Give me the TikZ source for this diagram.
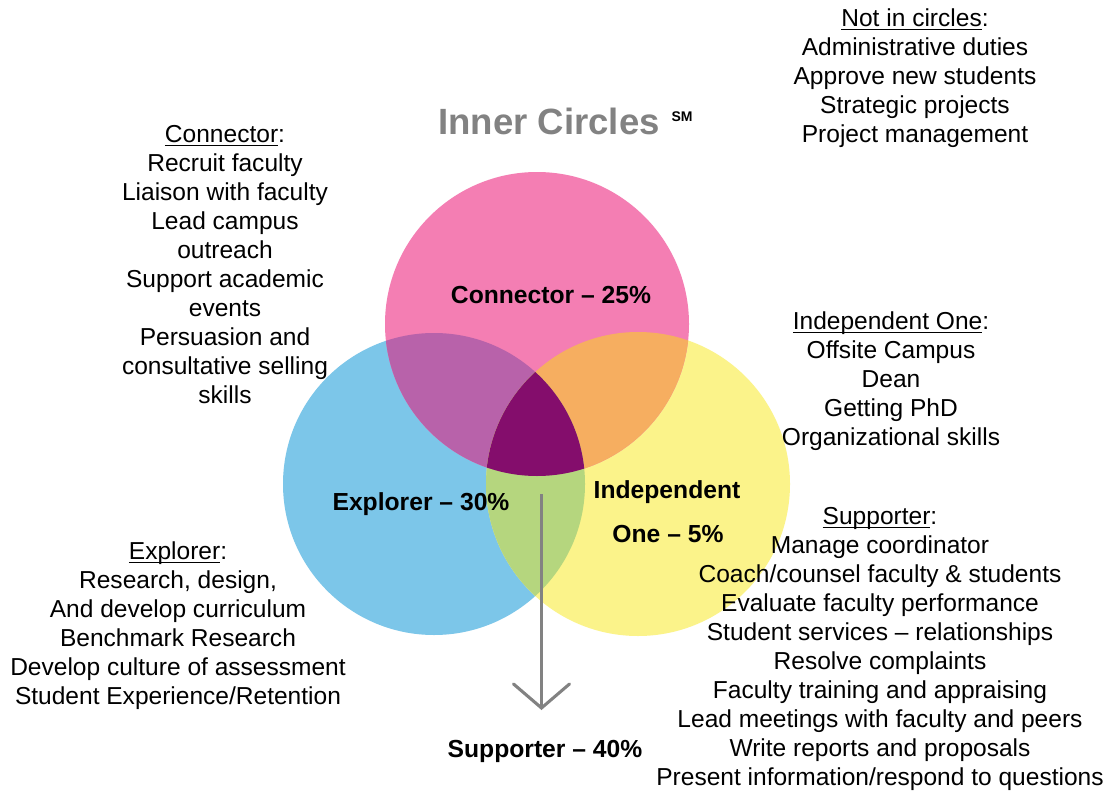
\documentclass[tikz,border=0pt]{standalone}
\usepackage{fontspec}
\setmainfont{Liberation Sans}
\usetikzlibrary{arrows.meta}

\definecolor{pinkc}{HTML}{F47EB3}
\definecolor{bluec}{HTML}{7CC6E9}
\definecolor{yellowc}{HTML}{FBF38A}
\definecolor{pinkblue}{HTML}{B862AA}
\definecolor{pinkyellow}{HTML}{F6AE60}
\definecolor{blueyellow}{HTML}{B5D67E}
\definecolor{corec}{HTML}{840D6C}
\definecolor{greyc}{HTML}{828282}

% heading with an underline that runs just under the baseline
\newcommand{\headul}[1]{\setbox0\hbox{#1}\rlap{\rule[-2.4pt]{\wd0}{0.85pt}}\box0}

\tikzset{
  listtext/.style={align=center, anchor=north, inner sep=0pt,
    font=\fontsize{18.4}{21.75}\selectfont},
  circlabel/.style={anchor=base, inner sep=0pt,
    font=\fontsize{18.5}{21.75}\selectfont\bfseries},
  arr/.style={draw=greyc, line width=2.3pt,
    -{Straight Barb[length=18pt,width=42pt,line cap=round]}}
}

\begin{document}
\begin{tikzpicture}[x=0.75pt,y=-0.75pt]
\useasboundingbox (0,0) rectangle (1116,795);
\fill[white] (0,0) rectangle (1116,795);

% circle centres
\coordinate (P) at (537,324);
\coordinate (B) at (434,484);
\coordinate (Y) at (638,484);
\def\rP{152}\def\rB{151}\def\rY{152}

% single circles
\fill[bluec] (B) circle (\rB);
\fill[yellowc] (Y) circle (\rY);
\fill[pinkc] (P) circle (\rP);

% pairwise overlaps
\begin{scope}
  \clip (P) circle (\rP);
  \fill[pinkblue] (B) circle (\rB);
  \fill[pinkyellow] (Y) circle (\rY);
\end{scope}
\begin{scope}
  \clip (B) circle (\rB);
  \fill[blueyellow] (Y) circle (\rY);
\end{scope}
% centre of all three
\begin{scope}
  \clip (P) circle (\rP);
  \clip (B) circle (\rB);
  \fill[corec] (Y) circle (\rY);
\end{scope}

% title
\node[inner sep=0pt, text=greyc, font=\fontsize{27.4}{30}\selectfont\bfseries]
  (title) at (549,121.5) {Inner Circles};
\node[inner sep=0pt, font=\fontsize{10.5}{12}\selectfont\bfseries]
  (sm) at (682,117) {SM};

% circle labels
\node[circlabel] (lconn) at (551,303) {Connector -- 25\%};
\node[circlabel] (lexpl) at (421,510) {Explorer -- 30\%};
\node[circlabel] (lind1) at (667,498) {Independent};
\node[circlabel] (lind2) at (668,542) {One -- 5\%};
\node[circlabel] (lsup) at (545,757) {Supporter -- 40\%};

% arrow down to the supporter label
\coordinate (astart) at (541.5,494);
\coordinate (atip) at (541.5,710);
\draw[arr] (astart) -- (atip);

% role lists
\node[listtext] (notin) at (915,8.4) {\headul{Not in circles}:\\
  Administrative duties\\ Approve new students\\ Strategic projects\\
  Project management};

\node[listtext] (conn) at (225,125.4) {\headul{Connector}:\\
  Recruit faculty\\ Liaison with faculty\\ Lead campus\\ outreach\\
  Support academic\\ events\\ Persuasion and\\ consultative selling\\ skills};

\node[listtext] (ind) at (891,311.4) {\headul{Independent One}:\\
  Offsite Campus\\ Dean\\ Getting PhD\\ Organizational skills};

\node[listtext] (sup) at (880,507.4) {\headul{Supporter}:\\
  Manage coordinator\\ Coach/counsel faculty \& students\\
  Evaluate faculty performance\\ Student services -- relationships\\
  Resolve complaints\\ Faculty training and appraising\\
  Lead meetings with faculty and peers\\ Write reports and proposals\\
  Present information/respond to questions};

\node[listtext] (expl) at (178,541.4) {\headul{Explorer}:\\
  Research, design,\\ And develop curriculum\\ Benchmark Research\\
  Develop culture of assessment\\ Student Experience/Retention};
\end{tikzpicture}
\end{document}
